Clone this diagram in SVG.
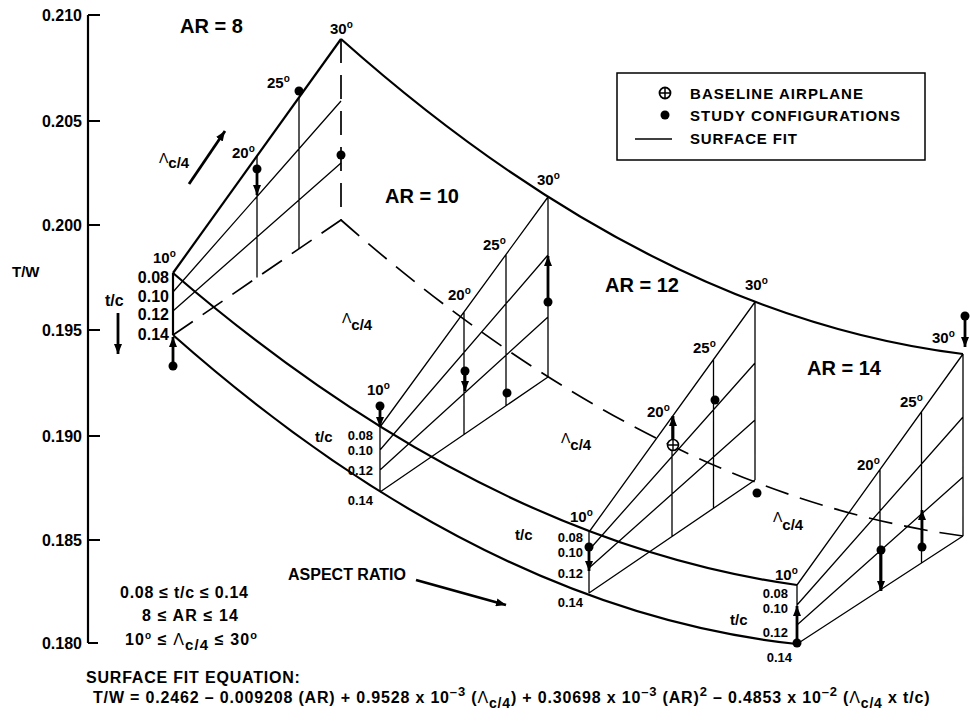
<svg xmlns="http://www.w3.org/2000/svg" width="970" height="727" viewBox="0 0 970 727">
<defs>
<style>
text{font-family:"Liberation Sans",Arial,Helvetica,sans-serif;font-weight:700;fill:#000}
.o{stroke:#000;stroke-width:2.2;fill:none}
.g{stroke:#000;stroke-width:1.3;fill:none}
.d{stroke:#000;stroke-width:1.7;fill:none;stroke-dasharray:24 12}
.a{stroke:#000;stroke-width:2.8;fill:none;marker-end:url(#ah)}
.ar{font-size:20px}
.ang{font-size:15px}
.sup{font-size:10px}
.tc{font-size:13px}
.tc8{font-size:16px}
.lam{font-weight:400}
.tick{font-size:16px;text-anchor:end}
</style>
<marker id="ah" viewBox="0 0 10 8" refX="10" refY="4" markerWidth="10" markerHeight="8" markerUnits="userSpaceOnUse" orient="auto"><path d="M0,0 L10,4 L0,8 z" fill="#000"/></marker>
</defs>
<rect width="970" height="727" fill="#fff"/>

<g id="axis">
<path class="o" d="M88,15 V643 M88,15 H100 M88,121 H100 M88,225 H100 M88,330 H100 M88,436 H100 M88,540 H100 M88,643 H98"/>
<text class="tick" x="82" y="21">0.210</text>
<text class="tick" x="82" y="127">0.205</text>
<text class="tick" x="82" y="231">0.200</text>
<text class="tick" x="82" y="336">0.195</text>
<text class="tick" x="82" y="442">0.190</text>
<text class="tick" x="82" y="546">0.185</text>
<text class="tick" x="82" y="649">0.180</text>
<text x="12" y="277" font-size="15">T/W</text>
</g>

<g id="surface">
<path class="o" d="M341,39 Q652,315.75 963,354"/>
<path class="o" d="M173,273 Q485,541.5 797,585"/>
<path class="o" d="M173,335 Q485,611 797,644"/>
<path class="d" d="M341,220 Q652,494 963,536"/>
</g>

<g id="panel-ar8">
<path class="o" d="M173,273 L341,39"/>
<path class="g" d="M173,292 L341,101 M173,311 L341,163 M257,156 V277.5 M299,97.5 V248.75"/>
<path class="o" d="M173,273 V335" stroke-width="1.8"/>
<path class="d" d="M173,335 L341,220 M341,39 V220"/>
</g>

<g id="panel-ar10">
<path class="g" d="M380,427 L548,197 M380,450 L548,255 M380,470 L548,317 M380,492 L548,377 M380,427 V492 M464,312 V434.5 M506,254.5 V405.75 M548,197 V377"/>
</g>

<g id="panel-ar12">
<path class="g" d="M589,532 L755,302 M589,550 L755,363 M589,568 L755,420 M589,593 L755,480 M589,532 V593 M672,417 V536.5 M713.5,359.5 V508.25 M755,302 V480"/>
</g>

<g id="panel-ar14">
<path class="g" d="M797,585 L963,354 M797,605 L963,417 M797,625 L963,477 M797,644 L963,536 M797,585 V644 M880,469.5 V590 M921.5,411.75 V563 M963,354 V536"/>
</g>

<g id="data">
<path class="a" d="M173,366 V337"/><circle cx="173" cy="366" r="4.5"/>
<path class="a" d="M257,169 V195"/><circle cx="257" cy="169" r="4.5"/>
<circle cx="299" cy="91" r="4.5"/>
<circle cx="341" cy="155" r="4.5"/>
<path class="a" d="M380,406 V427"/><circle cx="380" cy="406" r="4.5"/>
<path class="a" d="M465,371 V391"/><circle cx="465" cy="371" r="4.5"/>
<circle cx="507" cy="393" r="4.5"/>
<path class="a" d="M548,302 V256"/><circle cx="548" cy="302" r="4.5"/>
<path class="a" d="M589,547 V571"/><circle cx="589" cy="547" r="4.5"/>
<path class="a" d="M673,440 V416"/>
<g id="baseline-point"><circle cx="673" cy="445" r="5.5" fill="#fff" stroke="#000" stroke-width="1.6"/><path d="M667.5,445 H678.5 M673,439.5 V450.5" stroke="#000" stroke-width="1.4"/></g>
<circle cx="715" cy="400" r="4.5"/>
<circle cx="757" cy="493" r="4.5"/>
<path class="a" d="M797,643 V606"/><circle cx="797" cy="643" r="4.5"/>
<path class="a" d="M881,550 V591"/><circle cx="881" cy="550" r="4.5"/>
<path class="a" d="M922,547 V510"/><circle cx="922" cy="547" r="4.5"/>
<path class="a" d="M965,316 V347"/><circle cx="965" cy="316" r="4.5"/>
</g>

<g id="direction-arrows">
<path class="a" d="M189,184 L225,131" stroke-width="2"/>
<path class="a" d="M118,313 V354" stroke-width="1.8"/>
<path class="a" d="M416,580 L506,605" stroke-width="2"/>
</g>

<g id="labels">
<text class="ar" x="180" y="33">AR = 8</text>
<text class="ar" x="385" y="203">AR = 10</text>
<text class="ar" x="605" y="292">AR = 12</text>
<text class="ar" x="807" y="375">AR = 14</text>

<text class="ang" x="153" y="263">10<tspan class="sup" dy="-6">o</tspan></text>
<text class="ang" x="232" y="158">20<tspan class="sup" dy="-6">o</tspan></text>
<text class="ang" x="267" y="88">25<tspan class="sup" dy="-6">o</tspan></text>
<text class="ang" x="330" y="34">30<tspan class="sup" dy="-6">o</tspan></text>
<text class="ang" x="367" y="395">10<tspan class="sup" dy="-6">o</tspan></text>
<text class="ang" x="448" y="300">20<tspan class="sup" dy="-6">o</tspan></text>
<text class="ang" x="483" y="250">25<tspan class="sup" dy="-6">o</tspan></text>
<text class="ang" x="537" y="185">30<tspan class="sup" dy="-6">o</tspan></text>
<text class="ang" x="570" y="522">10<tspan class="sup" dy="-6">o</tspan></text>
<text class="ang" x="647" y="417">20<tspan class="sup" dy="-6">o</tspan></text>
<text class="ang" x="693" y="353">25<tspan class="sup" dy="-6">o</tspan></text>
<text class="ang" x="745" y="290">30<tspan class="sup" dy="-6">o</tspan></text>
<text class="ang" x="775" y="580">10<tspan class="sup" dy="-6">o</tspan></text>
<text class="ang" x="857" y="470">20<tspan class="sup" dy="-6">o</tspan></text>
<text class="ang" x="900" y="407">25<tspan class="sup" dy="-6">o</tspan></text>
<text class="ang" x="932" y="343">30<tspan class="sup" dy="-6">o</tspan></text>

<text class="tc8" x="105" y="306">t/c</text>
<g class="tc8" text-anchor="end">
<text x="169" y="283">0.08</text><text x="169" y="302">0.10</text><text x="169" y="320">0.12</text><text x="169" y="340">0.14</text>
</g>
<text x="315" y="442" font-size="15">t/c</text>
<g class="tc" text-anchor="end">
<text x="373" y="440">0.08</text><text x="373" y="455">0.10</text><text x="373" y="475">0.12</text><text x="373" y="505">0.14</text>
</g>
<text x="515" y="540" font-size="15">t/c</text>
<g class="tc" text-anchor="end">
<text x="583" y="542">0.08</text><text x="583" y="557">0.10</text><text x="583" y="578">0.12</text><text x="583" y="607">0.14</text>
</g>
<text x="730" y="625" font-size="15">t/c</text>
<g class="tc" text-anchor="end">
<text x="788" y="598">0.08</text><text x="788" y="613">0.10</text><text x="788" y="637">0.12</text><text x="792" y="662">0.14</text>
</g>

<text x="159" y="163" font-size="14"><tspan class="lam">Λ</tspan><tspan dy="5" font-size="15">c/4</tspan></text>
<text x="342" y="323" font-size="14"><tspan class="lam">Λ</tspan><tspan dy="7" font-size="15">c/4</tspan></text>
<text x="561" y="443" font-size="14"><tspan class="lam">Λ</tspan><tspan dy="7" font-size="15">c/4</tspan></text>
<text x="773" y="522" font-size="14"><tspan class="lam">Λ</tspan><tspan dy="8" font-size="15">c/4</tspan></text>

<text x="288" y="580" font-size="16">ASPECT RATIO</text>

<text x="120" y="598" font-size="16" textLength="128">0.08 ≤ t/c ≤ 0.14</text>
<text x="142" y="621" font-size="16" textLength="96">8 ≤ AR ≤ 14</text>
<text x="125" y="645" font-size="16" letter-spacing="1.1">10<tspan class="sup" dy="-6" font-size="11">o</tspan><tspan dy="6"> ≤ </tspan><tspan class="lam">Λ</tspan><tspan dy="5" font-size="15">c/4</tspan><tspan dy="-5"> ≤ 30</tspan><tspan dy="-6" font-size="11">o</tspan></text>
</g>

<g id="legend">
<rect x="617" y="73" width="308" height="87" fill="none" stroke="#000" stroke-width="1.5"/>
<circle cx="665" cy="93" r="5.5" fill="#fff" stroke="#000" stroke-width="1.8"/>
<path d="M659.5,93 H670.5 M665,87.5 V98.5" stroke="#000" stroke-width="1.5"/>
<circle cx="665" cy="115" r="4.5"/>
<path d="M635,139 H672" stroke="#000" stroke-width="1.5"/>
<text x="690" y="99" font-size="15" textLength="173">BASELINE AIRPLANE</text>
<text x="690" y="121" font-size="15" textLength="210">STUDY CONFIGURATIONS</text>
<text x="690" y="144" font-size="15" textLength="107">SURFACE FIT</text>
</g>

<g id="equation">
<text x="86" y="683" font-size="16" letter-spacing="0.8">SURFACE FIT EQUATION:</text>
<text x="93" y="703" font-size="16" letter-spacing="0.83">T/W = 0.2462 – 0.009208 (AR) + 0.9528 x 10<tspan dy="-7" font-size="13">–3</tspan><tspan dy="7"> (</tspan><tspan class="lam">Λ</tspan><tspan dy="5" font-size="14">c/4</tspan><tspan dy="-5">) + 0.30698 x 10</tspan><tspan dy="-7" font-size="13">–3</tspan><tspan dy="7"> (AR)</tspan><tspan dy="-7" font-size="13">2</tspan><tspan dy="7"> – 0.4853 x 10</tspan><tspan dy="-7" font-size="13">–2</tspan><tspan dy="7"> (</tspan><tspan class="lam">Λ</tspan><tspan dy="5" font-size="14">c/4</tspan><tspan dy="-5"> x t/c)</tspan></text>
</g>
</svg>
